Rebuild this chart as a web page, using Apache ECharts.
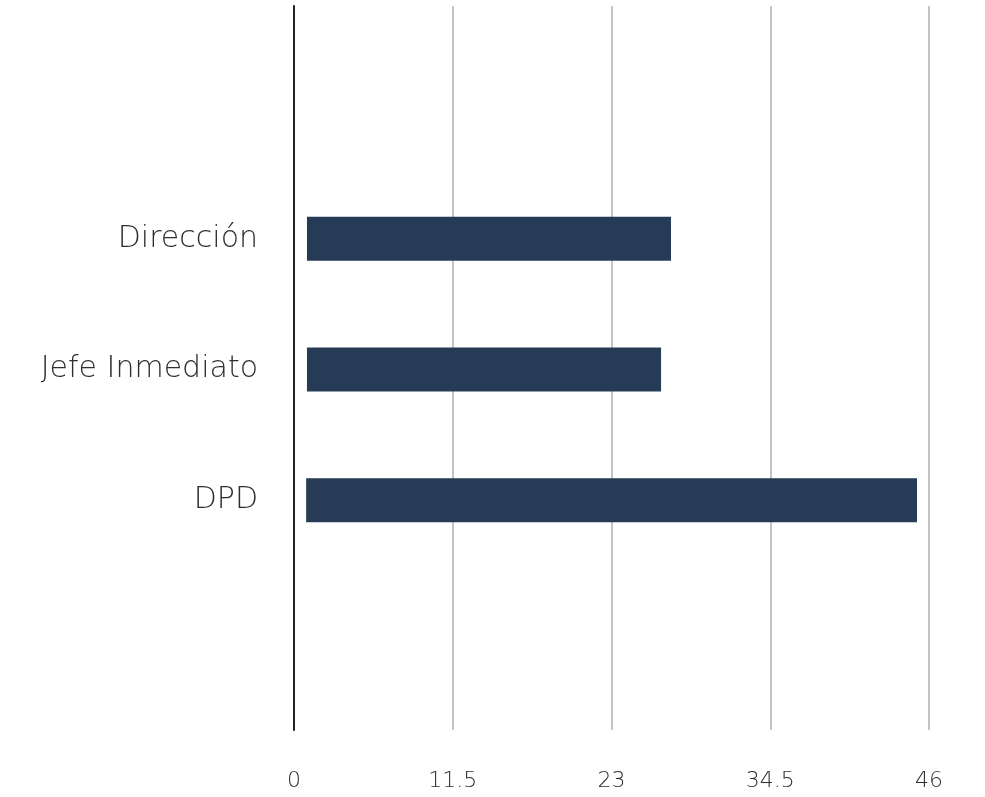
<!DOCTYPE html>
<html>
<head>
<meta charset="utf-8">
<script src="https://cdn.jsdelivr.net/npm/echarts@6/dist/echarts.min.js"></script>
<style>
html,body{margin:0;padding:0;background:#fff;}
#chart{width:985px;height:797px;}
</style>
</head>
<body>
<div id="chart"></div>
<script>
const categories = ['DPD', 'Jefe Inmediato', 'Dirección'];
const barStart = [0.88, 0.94, 0.94];
const barEnd = [45.13, 26.59, 27.31];
const xTicks = [0, 11.5, 23, 34.5, 46];

const barLength = barEnd.map((v, i) => +(v - barStart[i]).toFixed(2));

const chart = echarts.init(document.getElementById('chart'));
const FONT = '"DejaVu Sans"';
chart.setOption({
  animation: false,
  backgroundColor: '#ffffff',
  grid: [
    { left: 294, right: 56, top: 6, bottom: 67 },
    { left: 294, right: 56, top: 173.5, bottom: 231.5 }
  ],
  xAxis: [
    {
      gridIndex: 0, type: 'value', min: xTicks[0], max: xTicks[xTicks.length - 1], interval: 11.5,
      axisLine: { show: false }, axisTick: { show: false },
      splitLine: { show: true, lineStyle: { color: '#c4c4c8', width: 2 } },
      axisLabel: { margin: 40, fontFamily: FONT, fontWeight: 200, fontSize: 22, color: '#2e2e2e' }
    },
    {
      gridIndex: 1, type: 'value', min: xTicks[0], max: xTicks[xTicks.length - 1],
      show: false
    }
  ],
  yAxis: [
    {
      gridIndex: 0, type: 'value', min: 0, max: 1,
      axisLine: { show: true, lineStyle: { color: '#222222', width: 2 } },
      axisTick: { show: false }, axisLabel: { show: false }, splitLine: { show: false }
    },
    {
      gridIndex: 1, type: 'category', data: categories,
      axisLine: { show: false }, axisTick: { show: false }, splitLine: { show: false },
      axisLabel: { margin: 36, fontFamily: FONT, fontWeight: 200, fontSize: 30, color: '#2e2e2e', padding: [0, 0, 12, 0] }
    }
  ],
  series: [
    {
      type: 'bar', xAxisIndex: 1, yAxisIndex: 1, stack: 'b',
      data: barStart, barWidth: 44,
      itemStyle: { color: 'transparent' }, silent: true
    },
    {
      type: 'bar', xAxisIndex: 1, yAxisIndex: 1, stack: 'b',
      data: barLength, barWidth: 44,
      itemStyle: { color: '#263c56' }
    }
  ]
});
</script>
</body>
</html>
